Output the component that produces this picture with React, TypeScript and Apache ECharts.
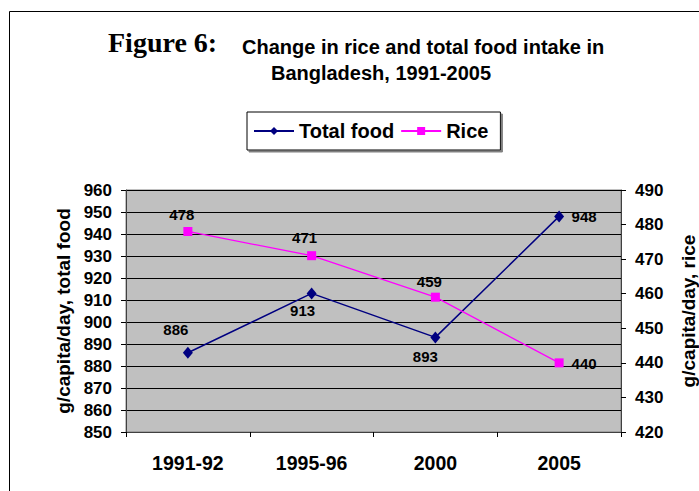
import React, { useEffect, useRef } from "react";
import * as echarts from "echarts";

const categories = ["1991-92", "1995-96", "2000", "2005"];
const totalFood = [886, 913, 893, 948];
const rice = [478, 471, 459, 440];
const leftTicks = { min: 850, max: 960, interval: 10 };
const rightTicks = { min: 420, max: 490, interval: 10 };

// label placement relative to each point (dx, dy)
const totalFoodLabelPos = [[-12, -23], [-9, 17], [-10, 19], [25, 0]];
const riceLabelPos = [[-6, -17], [-7, -18], [-6, -16], [25, 1]];

const SANS = '"Liberation Sans", Arial, sans-serif';
const SERIF = '"Liberation Serif", "Times New Roman", serif';

export default function App() {
  const ref = useRef<HTMLDivElement>(null);
  useEffect(() => {
    if (!ref.current) return;
    const chart = echarts.init(ref.current, null, { renderer: "svg" });
    const labelBase = {
      show: true,
      position: "inside",
      fontSize: 15,
      fontWeight: "bold",
      color: "#000",
      fontFamily: SANS,
    };
    chart.setOption({
      animation: false,
      backgroundColor: "#fff",
      textStyle: { fontFamily: SANS },
      graphic: [
        {
          type: "rect",
          shape: { x: 9.5, y: 11.5, width: 720, height: 520 },
          style: { fill: "none", stroke: "#000", lineWidth: 1 },
          silent: true,
        },
        {
          type: "text",
          x: 108,
          y: 42,
          style: {
            text: "Figure 6:",
            font: `bold 28px ${SERIF}`,
            fill: "#000",
            align: "left",
            verticalAlign: "middle",
          },
        },
        {
          type: "text",
          x: 242,
          y: 47,
          style: {
            text: "Change in rice and total food intake in",
            font: `bold 20px ${SANS}`,
            fill: "#000",
            align: "left",
            verticalAlign: "middle",
          },
        },
        {
          type: "text",
          x: 381,
          y: 73,
          style: {
            text: "Bangladesh, 1991-2005",
            font: `bold 20px ${SANS}`,
            fill: "#000",
            align: "center",
            verticalAlign: "middle",
          },
        },
      ],
      legend: {
        left: 247,
        top: 112,
        padding: [9, 12, 9, 6],
        itemGap: 6,
        itemWidth: 40,
        itemHeight: 10,
        borderColor: "#000",
        borderWidth: 1,
        backgroundColor: "#fff",
        shadowColor: "#808080",
        shadowOffsetX: 2,
        shadowOffsetY: 2,
        shadowBlur: 0,
        textStyle: { fontSize: 20, fontWeight: "bold", color: "#000", fontFamily: SANS },
        data: ["Total food", "Rice"],
      },
      grid: {
        left: 126,
        right: 78,
        top: 190,
        bottom: 59,
        outerBoundsMode: "none",
        containLabel: false,
        show: true,
        backgroundColor: "#C0C0C0",
        borderColor: "#808080",
        borderWidth: 1,
      },
      xAxis: {
        type: "category",
        data: categories,
        boundaryGap: true,
        axisLine: { lineStyle: { color: "#404040", width: 1 } },
        axisTick: { show: true, length: 5, lineStyle: { color: "#000" } },
        axisLabel: { fontSize: 19.5, fontWeight: "bold", color: "#000", margin: 21, fontFamily: SANS },
      },
      yAxis: [
        {
          type: "value",
          min: leftTicks.min,
          max: leftTicks.max,
          interval: leftTicks.interval,
          name: "g/capita/day, total food",
          nameLocation: "middle",
          nameGap: 51,
          nameRotate: 90,
          nameTextStyle: { fontSize: 19, fontWeight: "bold", color: "#000", fontFamily: SANS },
          axisLine: { show: true, lineStyle: { color: "#404040" } },
          axisTick: { show: true, length: 5, lineStyle: { color: "#000" } },
          axisLabel: { fontSize: 17, fontWeight: "bold", color: "#000", margin: 14, fontFamily: SANS },
          splitLine: { show: true, lineStyle: { color: "#000", width: 1 } },
        },
        {
          type: "value",
          position: "right",
          min: rightTicks.min,
          max: rightTicks.max,
          interval: rightTicks.interval,
          name: "g/capita/day, rice",
          nameLocation: "middle",
          nameGap: 58,
          nameRotate: 90,
          nameTextStyle: { fontSize: 19, fontWeight: "bold", color: "#000", fontFamily: SANS },
          axisLine: { show: true, lineStyle: { color: "#404040" } },
          axisTick: { show: true, length: 5, lineStyle: { color: "#000" } },
          axisLabel: { fontSize: 17, fontWeight: "bold", color: "#000", margin: 14, fontFamily: SANS },
          splitLine: { show: false },
        },
      ],
      series: [
        {
          name: "Total food",
          type: "line",
          yAxisIndex: 0,
          symbol: "diamond",
          symbolSize: [10, 12],
          itemStyle: { color: "#000080" },
          lineStyle: { color: "#000080", width: 1.5 },
          label: labelBase,
          data: totalFood.map((v, i) => ({
            value: v,
            label: { offset: totalFoodLabelPos[i] },
          })),
        },
        {
          name: "Rice",
          type: "line",
          yAxisIndex: 1,
          symbol: "rect",
          symbolSize: 9,
          itemStyle: { color: "#FF00FF" },
          lineStyle: { color: "#FF00FF", width: 1.3 },
          label: labelBase,
          data: rice.map((v, i) => ({
            value: v,
            label: { offset: riceLabelPos[i] },
          })),
        },
      ],
    });
    return () => chart.dispose();
  }, []);
  return (
    <div
      ref={ref}
      style={{ position: "fixed", left: 0, top: 0, width: 699, height: 491 }}
    />
  );
}
